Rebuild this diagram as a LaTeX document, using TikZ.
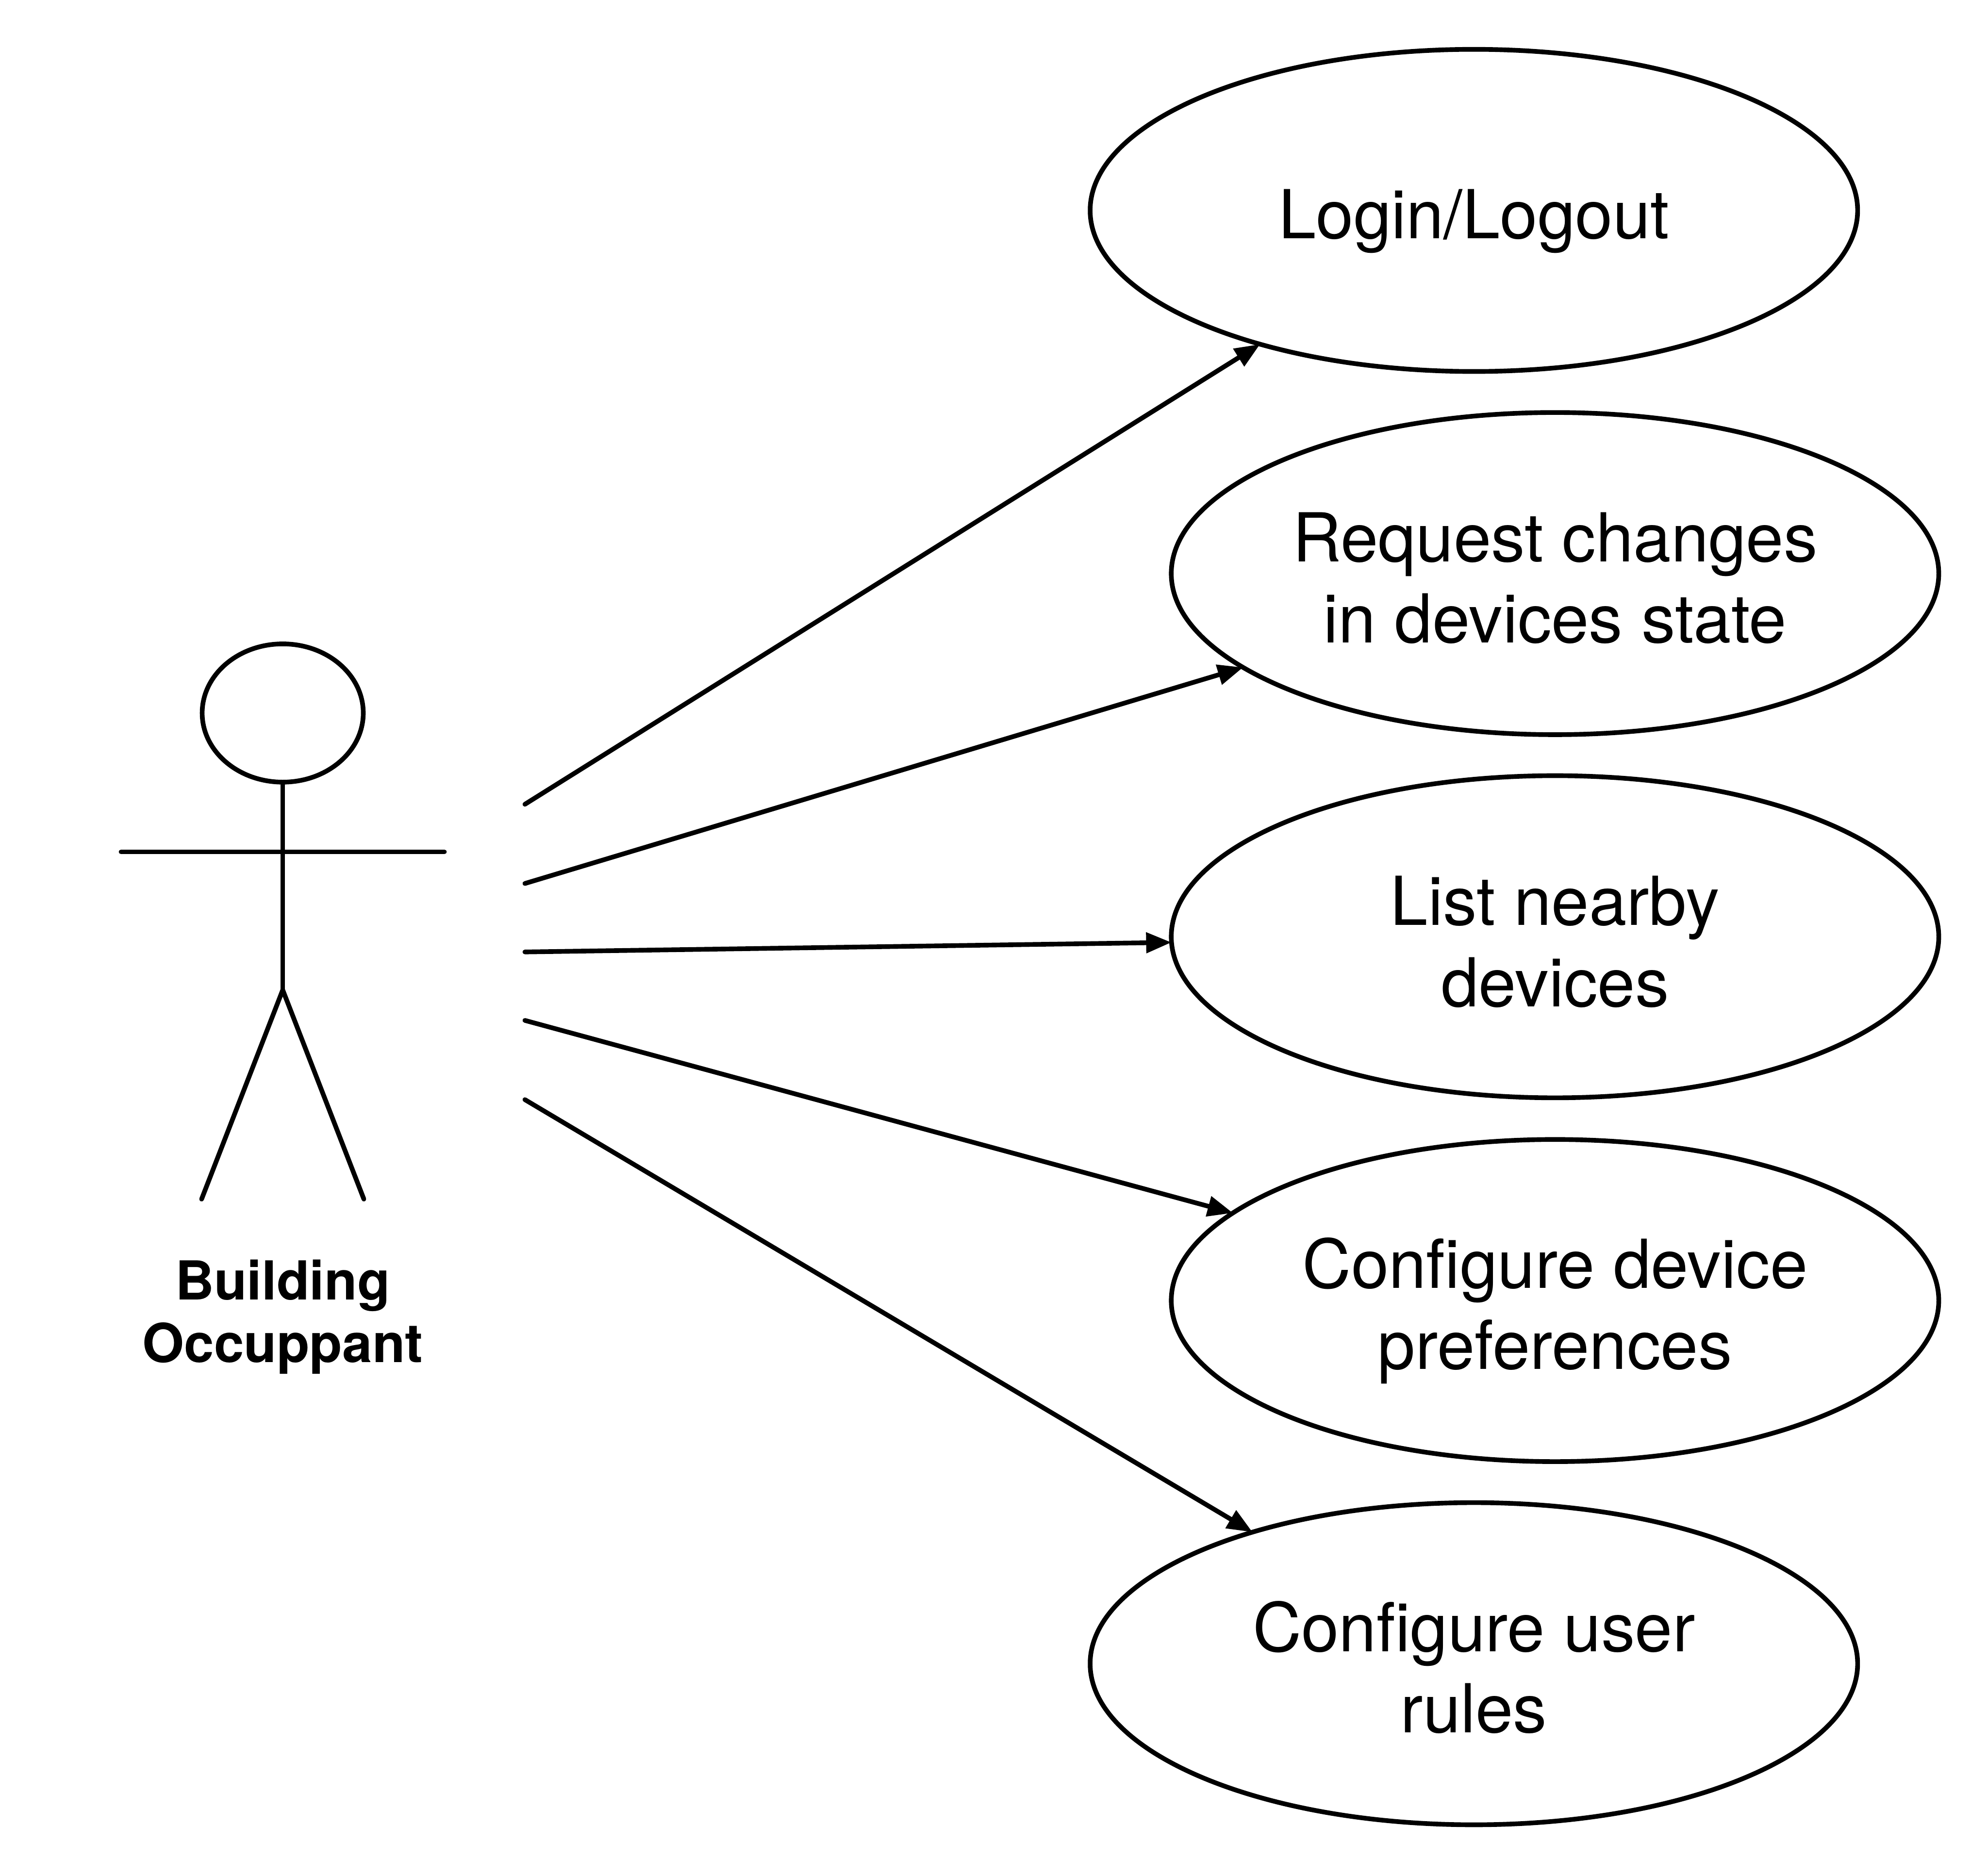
\documentclass[tikz,border=0pt]{standalone}
\usepackage{fontspec}
\setmainfont{TeX Gyre Heros}
\usetikzlibrary{shapes.geometric,arrows.meta}
\tikzset{
  usecase/.style={draw=black,line width=1.05pt,ellipse,inner sep=0pt,outer sep=0pt,minimum width=6.05cm,minimum height=2.54cm},
  uclabel/.style={align=center,inner sep=0pt,font=\fontsize{15.15}{18.2}\selectfont},
  actorlabel/.style={align=center,font=\fontsize{12.05}{14}\selectfont\bfseries,inner sep=0pt},
  stick/.style={draw=black,line width=1.05pt,line cap=round,line join=round},
  assoc/.style={draw=black,line width=1.05pt,line cap=round,-{Triangle[length=0.2cm,width=0.157cm]}}
}
\begin{document}
\begin{tikzpicture}[x=0.01cm,y=-0.01cm]
\useasboundingbox (0,0) rectangle (1568,1479);
\node[usecase] (uc1) at (1162.5,166) {};
\node[usecase] (uc2) at (1226.5,452.5) {};
\node[usecase] (uc3) at (1226.5,739) {};
\node[usecase] (uc4) at (1226.5,1026) {};
\node[usecase] (uc5) at (1162.5,1312.5) {};
\node[uclabel] (t1) at (1162.5,174.5) {Login/Logout};
\node[uclabel] (t2) at (1226.5,456) {Request changes\\in devices state};
\node[uclabel] (t3) at (1226.5,743) {List nearby\\devices};
\node[uclabel] (t4) at (1226.5,1034) {Configure device\\preferences};
\node[uclabel] (t5) at (1162.5,1315.5) {Configure user\\rules};
\node[draw=black,line width=1.05pt,ellipse,inner sep=0pt,outer sep=0pt,minimum width=1.27cm,minimum height=1.09cm] (head) at (223,562.5) {};
\coordinate (hip) at (223,781);
\coordinate (armL) at (95.5,672);
\coordinate (armR) at (350.5,672);
\coordinate (footL) at (159,946);
\coordinate (footR) at (287,946);
\draw[stick] (head.south) -- (hip);
\draw[stick] (armL) -- (armR);
\draw[stick] (footL) -- (hip) -- (footR);
\node[actorlabel] (actor) at (223,1039) {Building\\Occuppant};
\coordinate (a1) at (414,634.5);
\coordinate (a2) at (414,697);
\coordinate (a3) at (414,751);
\coordinate (a4) at (414,805);
\coordinate (a5) at (414,867.5);
\draw[assoc] (a1) -- (uc1);
\draw[assoc] (a2) -- (uc2);
\draw[assoc] (a3) -- (uc3);
\draw[assoc] (a4) -- (uc4);
\draw[assoc] (a5) -- (uc5);
\end{tikzpicture}
\end{document}
